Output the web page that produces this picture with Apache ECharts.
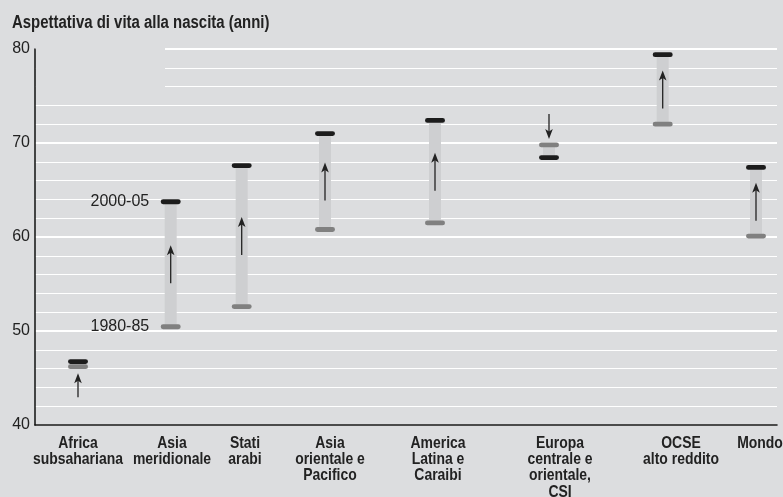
<!DOCTYPE html>
<html><head><meta charset="utf-8">
<script src="https://cdn.jsdelivr.net/npm/echarts@6/dist/echarts.min.js"></script>
<style>html,body{margin:0;padding:0;background:#dcdddf;overflow:hidden}#c{width:783px;height:497px}</style>
</head><body><div id="c"></div>
<script>
// ---- data ----
const categories = ['Africa\nsubsahariana', 'Asia\nmeridionale', 'Stati\narabi', 'Asia\norientale e\nPacifico',
  'America\nLatina e\nCaraibi', 'Europa\ncentrale e\norientale,\nCSI', 'OCSE\nalto reddito', 'Mondo'];
const life1980 = [46.2, 50.45, 52.6, 60.8, 61.5, 69.8, 72.0, 60.1];
const life2005 = [46.75, 63.75, 67.6, 71.0, 72.4, 68.45, 79.4, 67.4];
const yTicks = [40, 50, 60, 70, 80];
const periodLabels = ['1980-85', '2000-05'];
const titleText = 'Aspettativa di vita alla nascita (anni)';

// ---- layout (x axis runs in pixel-like units from the y axis) ----
const slotX = [43, 135.7, 206.7, 290, 400, 514, 627.7, 721];
const labelX = [43, 137, 210, 295, 403, 525, 646, 725];
const annotatedIndex = 1;

const BG = '#dcdddf', BAR = '#cecfd1', OLD = '#808080', NEW = '#1c1c1c', INK = '#222222';
const NARROW = 0.82; // horizontal squeeze to mimic a condensed face

const chart = echarts.init(document.getElementById('c'), null, {renderer: 'canvas', width: 783, height: 497});

function renderItem(params, api) {
  const i = api.value(3);
  const pA = api.coord([api.value(0), api.value(1)]);
  const pB = api.coord([api.value(0), api.value(2)]);
  const cx = pA[0], yA = pA[1], yB = pB[1];
  const top = Math.min(yA, yB), bot = Math.max(yA, yB);
  const ch = [];
  ch.push({type: 'rect', shape: {x: cx - 6, y: top, width: 12, height: bot - top}, style: {fill: BAR}});
  ch.push({type: 'rect', shape: {x: cx - 10, y: yA - 2.4, width: 20, height: 4.8, r: 2.4}, style: {fill: OLD}});
  ch.push({type: 'rect', shape: {x: cx - 10, y: yB - 2.4, width: 20, height: 4.8, r: 2.4}, style: {fill: NEW}});
  const up = yB < yA;
  let tip, tail;
  if (bot - top > 50) {
    const mid = (top + bot) / 2;
    tip = up ? mid - 19 : mid + 19;
    tail = up ? mid + 19 : mid - 19;
  } else if (up) { tip = bot + 6.5; tail = tip + 24; }
  else { tip = top - 6; tail = tip - 25; }
  const d = up ? 1 : -1;
  ch.push({type: 'line', shape: {x1: cx, y1: tip + d * 6, x2: cx, y2: tail}, style: {stroke: INK, lineWidth: 1.3}});
  ch.push({type: 'polygon', shape: {points: [[cx, tip], [cx + 3.8, tip + d * 10], [cx, tip + d * 7.5], [cx - 3.8, tip + d * 10]]}, style: {fill: INK}});
  if (i === annotatedIndex) {
    const tf = {fontFamily: 'Liberation Sans', fontSize: 16, fill: INK, align: 'right', verticalAlign: 'middle'};
    ch.push({type: 'text', style: Object.assign({x: cx - 21.5, y: yA, text: periodLabels[0]}, tf)});
    ch.push({type: 'text', style: Object.assign({x: cx - 21.5, y: yB, text: periodLabels[1]}, tf)});
  }
  // category label under the axis
  const lp = api.coord([labelX[i], yTicks[0]]);
  ch.push({
    type: 'text', x: lp[0], y: lp[1] + 10, scaleX: NARROW,
    style: {text: categories[i], x: 0, y: 0, fontFamily: 'Liberation Sans', fontWeight: 'bold', fontSize: 17,
      lineHeight: 16.3, fill: INK, align: 'center', verticalAlign: 'top'}
  });
  return {type: 'group', children: ch};
}

const seriesData = categories.map((c, i) => [slotX[i], life1980[i], life2005[i], i]);

chart.setOption({
  backgroundColor: BG,
  animation: false,
  grid: {left: 35, right: 6, top: 49, bottom: 72, containLabel: false},
  xAxis: {
    type: 'value', min: 0, max: 742, z: 5,
    axisLine: {show: true, lineStyle: {color: '#111', width: 1.5}},
    axisTick: {show: false},
    splitLine: {show: false},
    axisLabel: {show: false}
  },
  yAxis: {
    type: 'value', min: yTicks[0], max: yTicks[yTicks.length - 1], interval: 10,
    axisLine: {show: true, lineStyle: {color: '#111', width: 1.5}},
    axisTick: {show: false},
    axisLabel: {fontFamily: 'Liberation Sans', fontSize: 16, color: INK, margin: 5},
    splitLine: {show: true, lineStyle: {color: '#ffffff', width: 2}},
    minorTick: {show: false, splitNumber: 5},
    minorSplitLine: {show: true, lineStyle: {color: '#ffffff', width: 1}}
  },
  series: [{
    type: 'custom', renderItem: renderItem, data: seriesData, z: 10,
    encode: {x: 0, y: [1, 2]}, clip: false
  }]
});

// blank patch under the title where the top gridlines are interrupted, plus the title
const p1 = chart.convertToPixel({gridIndex: 0}, [1, 81]);
const p2 = chart.convertToPixel({gridIndex: 0}, [130, 75]);
chart.setOption({
  graphic: [{
    type: 'rect', z: 3, silent: true,
    shape: {x: p1[0], y: p1[1], width: p2[0] - p1[0], height: p2[1] - p1[1]},
    style: {fill: BG}
  }, {
    type: 'text', z: 4, x: 12, y: 23, scaleX: 0.83, silent: true,
    style: {text: titleText, x: 0, y: 0, fontFamily: 'Liberation Sans', fontWeight: 'bold', fontSize: 18,
      fill: INK, align: 'left', verticalAlign: 'middle'}
  }]
});
</script>
</body></html>
